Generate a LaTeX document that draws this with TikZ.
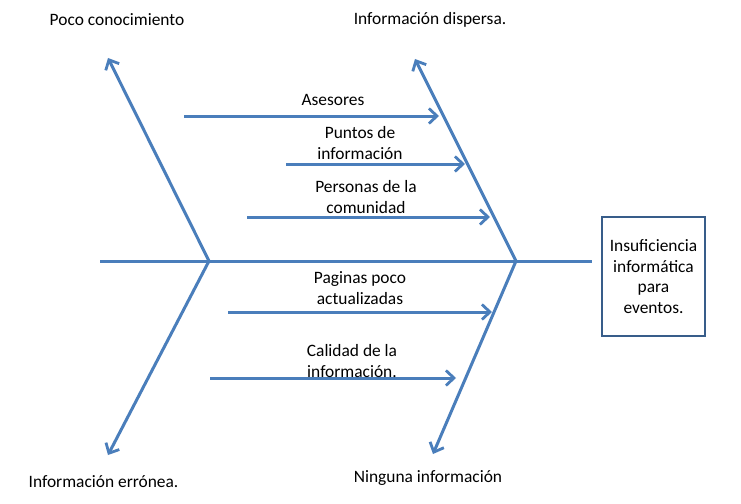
\documentclass[tikz,border=0pt]{standalone}
\usepackage{fontspec}
\setmainfont{Carlito}
\usetikzlibrary{arrows.meta}
\definecolor{bone}{HTML}{4A7EBB}
\definecolor{boxc}{HTML}{385D8A}
\begin{document}
\begin{tikzpicture}[x=1pt,y=-1pt,
  bonel/.style={draw=bone,line width=3pt},
  arr/.style={bonel,-{Straight Barb[length=8pt,width=15pt,line width=2.8pt]}},
  lbl/.style={font=\fontsize{17.4}{21}\selectfont,align=center,inner sep=0pt},
  effect/.style={draw=boxc,line width=2.6pt,minimum width=103pt,minimum height=119pt,
    font=\fontsize{17.4}{20.5}\selectfont,align=center,inner sep=2pt}]
\useasboundingbox (0,0) rectangle (741,503);
\fill[white] (0,0) rectangle (741,503);
% junctions and ends
\coordinate (s0) at (100,261);
\coordinate (s1) at (592,261);
\coordinate (j1) at (209,261);
\coordinate (j2) at (516,261);
\coordinate (t1) at (108,58);
\coordinate (t2) at (108,455);
\coordinate (t3) at (415,59);
\coordinate (t4) at (433,454);
% spine
\draw[bonel] (s0) -- (s1);
% main bones
\draw[arr] (j1) -- (t1);
\draw[arr] (j1) -- (t2);
\draw[arr] (j2) -- (t3);
\draw[arr] (j2) -- (t4);
% effect box
\node[effect] (eff) at (653.5,276.5) {Insuficiencia\\informática\\para\\eventos.};
% category labels
\node[lbl] (c1) at (117,20) {Poco conocimiento};
\node[lbl] (c2) at (430,20) {Información dispersa.};
\node[lbl] (c3) at (103.5,482) {Información errónea.};
\node[lbl] (c4) at (428,478) {Ninguna información};
% sub-cause arrows
\coordinate (a1s) at (184,116); \coordinate (a1e) at (439,116);
\coordinate (a2s) at (286,164); \coordinate (a2e) at (465,164);
\coordinate (a3s) at (247,217); \coordinate (a3e) at (490,217);
\coordinate (a4s) at (228,312); \coordinate (a4e) at (492,312);
\coordinate (a5s) at (210,378); \coordinate (a5e) at (456,378);
\draw[arr] (a1s) -- (a1e);
\draw[arr] (a2s) -- (a2e);
\draw[arr] (a3s) -- (a3e);
\draw[arr] (a4s) -- (a4e);
\draw[arr] (a5s) -- (a5e);
% sub-cause labels
\node[lbl] (l1) at (333,100) {Asesores};
\node[lbl] (l2) at (360,143) {Puntos de\\información};
\node[lbl] (l3) at (366,197) {Personas de la\\comunidad};
\node[lbl] (l4) at (360,288) {Paginas poco\\actualizadas};
\node[lbl] (l5) at (352,361) {Calidad de la\\información.};
\end{tikzpicture}
\end{document}
